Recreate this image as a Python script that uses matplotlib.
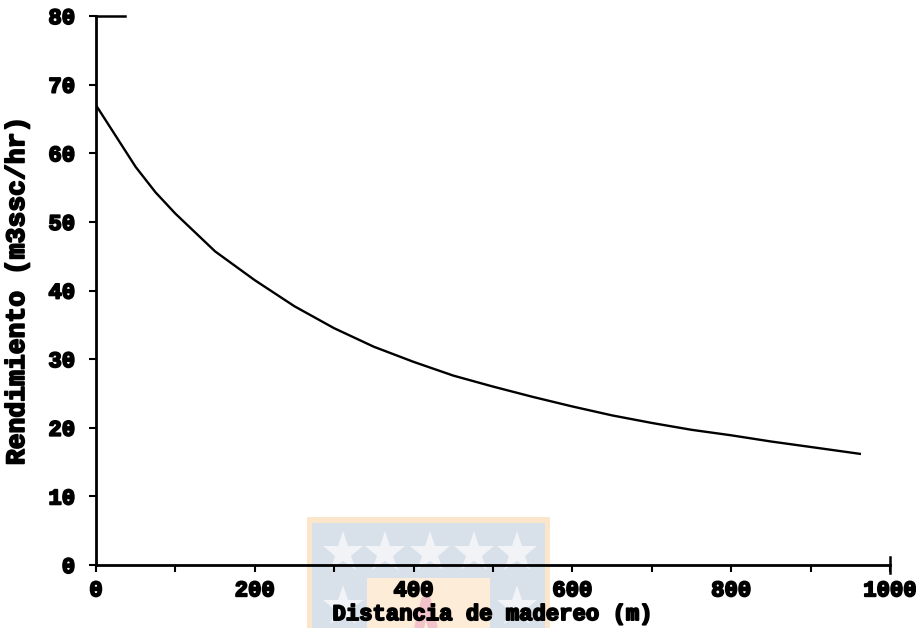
import matplotlib
matplotlib.use("Agg")
import matplotlib.pyplot as plt
import matplotlib.patheffects as pe
from matplotlib.patches import Rectangle
import numpy as np

# Data
distancia = [0, 25, 50, 75, 100, 150, 200, 250, 300, 350, 400, 450, 500,
             550, 600, 650, 700, 750, 800, 850, 900, 962]
rendimiento = [67.0, 62.5, 58.0, 54.3, 51.2, 45.7, 41.5, 37.7, 34.5, 31.8,
               29.6, 27.6, 26.0, 24.5, 23.1, 21.8, 20.7, 19.7, 18.9, 18.0,
               17.2, 16.2]
xticks = [0, 200, 400, 600, 800, 1000]
yticks = [0, 10, 20, 30, 40, 50, 60, 70, 80]
xlabel = "Distancia de madereo (m)"
ylabel = "Rendimiento (m3ssc/hr)"

W, H = 916, 628
fig = plt.figure(figsize=(W / 100, H / 100), dpi=100)

# Watermark logo (behind the chart axes), drawn in pixel coordinates
bg = fig.add_axes([0, 0, 1, 1])
bg.set_zorder(0)
bg.set_xlim(0, W)
bg.set_ylim(H, 0)
bg.axis("off")

def px_rect(x0, y0, x1, y1, color, z):
    bg.add_patch(Rectangle((x0, y0), x1 - x0, y1 - y0, color=color,
                           linewidth=0, zorder=z))

px_rect(307, 517, 550, 628, "#fbe6cc", 1)
px_rect(312, 523, 545, 628, "#d8e0ea", 2)
px_rect(367, 578, 490, 628, "#fdecd8", 3)
for sx in [343, 385, 430, 474, 517]:
    bg.plot(sx, 553, marker="*", markersize=31, color="#f1f3f7",
            markeredgewidth=0, zorder=4)
for sx in [343, 517]:
    bg.plot(sx, 607, marker="*", markersize=31, color="#f1f3f7",
            markeredgewidth=0, zorder=4)
bg.plot([420, 426, 432], [624, 600, 624], color="#f3c3cb", lw=7, zorder=4)

ax = fig.add_axes([96 / W, 1 - 565 / H, (890 - 96) / W, (565 - 16) / H])
ax.set_zorder(1)
ax.patch.set_alpha(0)

ax.plot(distancia, rendimiento, color="black", lw=1.7)

ax.set_xlim(0, 1000)
ax.set_ylim(0, 80)
ax.spines["top"].set_visible(False)
ax.spines["right"].set_visible(False)
ax.spines["left"].set_linewidth(2)
ax.spines["bottom"].set_linewidth(2)

# short top stub at 80 and end tick at 1000
ax.plot([0, 36], [80, 80], color="black", lw=1.8, clip_on=False)
ax.plot([1000, 1000], [-1.2, 1.2], color="black", lw=1.8, clip_on=False)

fp = dict(family="Liberation Mono", fontweight="bold")
stroke = [pe.withStroke(linewidth=1.3, foreground="black")]

ax.set_xticks(xticks)
ax.set_xticklabels([str(v) for v in xticks], fontsize=16, **fp)
ax.set_xticks(range(100, 1000, 200), minor=True)
ax.set_yticks(yticks)
ax.set_yticklabels([str(v) for v in yticks], fontsize=16, **fp)
ax.tick_params(axis="both", which="both", direction="out", width=1.5, color="black")
ax.tick_params(axis="x", which="major", length=5, pad=6)
ax.tick_params(axis="x", which="minor", length=5)
ax.tick_params(axis="y", which="major", length=5, pad=10)
for t in ax.get_xticklabels() + ax.get_yticklabels():
    t.set_path_effects(stroke)

ax.set_xlabel(xlabel, fontsize=16, labelpad=2, path_effects=stroke, **fp)
ax.set_ylabel(ylabel, fontsize=19, labelpad=14, path_effects=stroke, **fp)

fig.savefig("out.png", dpi=100)
